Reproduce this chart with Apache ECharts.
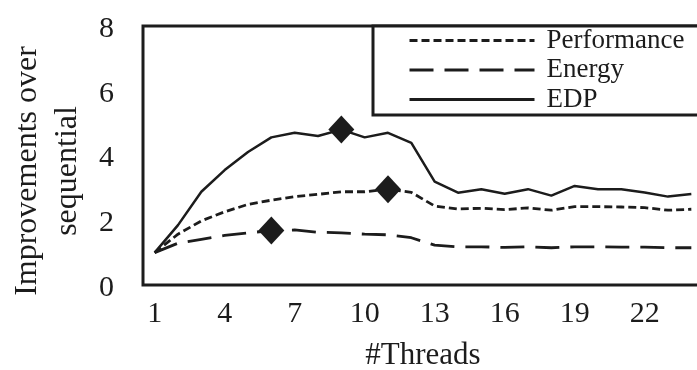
<!DOCTYPE html>
<html>
<head>
<meta charset="utf-8">
<script src="https://cdn.jsdelivr.net/npm/echarts@6/dist/echarts.min.js"></script>
<style>
  html, body { margin: 0; padding: 0; background: #fff; }
  #chart { width: 697px; height: 370px; }
</style>
</head>
<body>
<div id="chart"></div>
<script>
const threads = ['1', '2', '3', '4', '5', '6', '7', '8', '9', '10', '11', '12',
  '13', '14', '15', '16', '17', '18', '19', '20', '21', '22', '23', '24'];

const performance = [1.0, 1.57, 1.98, 2.26, 2.49, 2.62, 2.73, 2.8, 2.88, 2.88, 2.96, 2.86,
  2.44, 2.35, 2.37, 2.33, 2.38, 2.31, 2.42, 2.42, 2.41, 2.39, 2.31, 2.34];
const energy = [1.0, 1.29, 1.41, 1.53, 1.61, 1.68, 1.7, 1.63, 1.61, 1.57, 1.55, 1.46,
  1.23, 1.18, 1.18, 1.16, 1.18, 1.15, 1.18, 1.18, 1.17, 1.17, 1.15, 1.15];
const edp = [1.0, 1.85, 2.88, 3.55, 4.11, 4.56, 4.7, 4.6, 4.8, 4.56, 4.7, 4.39,
  3.19, 2.85, 2.96, 2.82, 2.96, 2.76, 3.06, 2.96, 2.96, 2.86, 2.73, 2.81];

// thread count carrying the diamond marker on each curve
const peakPerformance = '11';
const peakEnergy = '6';
const peakEdp = '9';

const ink = '#1c1c1c';
const serif = 'Liberation Serif';

const withMarker = (values, peak) =>
  values.map((v, i) =>
    threads[i] === peak
      ? { value: v, symbol: 'diamond', symbolSize: [26, 28], itemStyle: { color: ink } }
      : v,
  );

const lineSeries = (name, values, peak, width, type) => ({
  name,
  type: 'line',
  data: withMarker(values, peak),
  symbol: 'none',
  showSymbol: true,
  showAllSymbol: true,
  color: ink,
  lineStyle: { color: ink, width, type },
  emphasis: { disabled: true },
  z: 3,
});

const chart = echarts.init(document.getElementById('chart'));
chart.setOption({
  animation: false,
  backgroundColor: '#fff',
  textStyle: { fontFamily: serif },
  grid: {
    left: 143,
    top: 26,
    width: 560,
    height: 259,
    show: true,
    borderColor: ink,
    borderWidth: 3,
    containLabel: false,
    outerBoundsMode: 'none',
  },
  legend: {
    orient: 'vertical',
    left: 373,
    top: 26,
    padding: [1, 60, 2, 35],
    itemWidth: 125,
    itemHeight: 27,
    itemGap: 2.5,
    borderColor: ink,
    borderWidth: 3,
    backgroundColor: '#fff',
    selectedMode: false,
    itemStyle: { opacity: 0 },
    lineStyle: { width: 3 },
    data: ['Performance', 'Energy', 'EDP'],
    textStyle: {
      fontFamily: serif,
      fontSize: 27,
      lineHeight: 27,
      color: ink,
      padding: [0, 0, 0, 7],
    },
  },
  xAxis: {
    type: 'category',
    data: threads,
    boundaryGap: true,
    name: '#Threads',
    nameLocation: 'middle',
    nameGap: 55,
    nameTextStyle: { fontFamily: serif, fontSize: 31, color: ink },
    axisLine: { show: false },
    axisTick: { show: false },
    axisLabel: {
      interval: 2,
      margin: 14,
      fontFamily: serif,
      fontSize: 30,
      color: ink,
    },
    splitLine: { show: false },
  },
  yAxis: {
    type: 'value',
    min: 0,
    max: 8,
    interval: 2,
    axisLine: { show: false },
    axisTick: { show: false },
    splitLine: { show: false },
    axisLabel: {
      margin: 29,
      verticalAlign: 'top',
      lineHeight: 6,
      fontFamily: serif,
      fontSize: 30,
      color: ink,
    },
  },
  graphic: [
    {
      type: 'text',
      x: 48,
      y: 171,
      rotation: Math.PI / 2,
      style: {
        text: 'Improvements over\nsequential',
        font: '32px "Liberation Serif"',
        lineHeight: 40,
        fill: ink,
        align: 'center',
        verticalAlign: 'middle',
      },
    },
  ],
  series: [
    lineSeries('Performance', performance, peakPerformance, 2.8, [8, 4]),
    lineSeries('Energy', energy, peakEnergy, 2.8, [24, 11]),
    lineSeries('EDP', edp, peakEdp, 2.5, 'solid'),
  ],
});
</script>
</body>
</html>
